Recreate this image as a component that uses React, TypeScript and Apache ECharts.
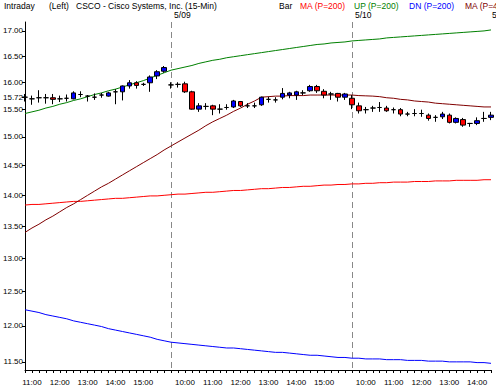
import React, { useEffect, useRef } from "react";
import * as echarts from "echarts";

// ---- categories (15-min bars) ----
const day1Times = ["10:45","11:00","11:15","11:30","11:45","12:00","12:15","12:30","12:45","13:00","13:15","13:30","13:45","14:00","14:15","14:30","14:45","15:00","15:15","15:30","15:45"];
const fullDayTimes = ["9:30","9:45","10:00","10:15","10:30","10:45","11:00","11:15","11:30","11:45","12:00","12:15","12:30","12:45","13:00","13:15","13:30","13:45","14:00","14:15","14:30","14:45","15:00","15:15","15:30","15:45"];
const day3Times = ["9:30","9:45","10:00","10:15","10:30","10:45","11:00","11:15","11:30","11:45","12:00","12:15","12:30","12:45","13:00","13:15","13:30","13:45","14:00","14:15","14:30"];
const dayLabels = ["5/08", "5/09", "5/10"];
const nextDayLabel = "5/11";

const categories: string[] = [
  ...day1Times.map((t) => dayLabels[0] + " " + t),
  ...fullDayTimes.map((t) => dayLabels[1] + " " + t),
  ...day3Times.map((t) => dayLabels[2] + " " + t),
];

// ---- candles: [open, close, low, high] ----
const candles: number[][] = [
  [15.72,15.72,15.64,15.78],[15.69,15.69,15.58,15.75],[15.71,15.71,15.62,15.85],[15.71,15.71,15.60,15.78],
  [15.71,15.68,15.59,15.78],[15.69,15.69,15.63,15.75],[15.70,15.70,15.64,15.77],[15.69,15.80,15.68,15.83],
  [15.77,15.77,15.72,15.83],[15.74,15.74,15.64,15.76],[15.72,15.72,15.67,15.79],[15.76,15.76,15.71,15.80],
  [15.74,15.80,15.73,15.82],[15.82,15.82,15.59,15.87],[15.82,15.93,15.66,15.94],[15.93,15.99,15.88,16.04],
  [15.99,15.94,15.88,16.02],[15.96,15.96,15.93,15.99],[15.99,16.10,15.82,16.13],[16.12,16.20,16.06,16.23],
  [16.21,16.28,16.18,16.31],
  [15.95,15.95,15.88,16.00],[15.96,15.96,15.90,16.00],[15.97,15.82,15.80,16.01],[15.82,15.50,15.49,15.84],
  [15.50,15.56,15.45,15.61],[15.55,15.55,15.49,15.61],[15.56,15.50,15.39,15.58],[15.50,15.50,15.42,15.59],
  [15.53,15.53,15.49,15.59],[15.54,15.65,15.52,15.67],[15.64,15.56,15.54,15.65],[15.56,15.56,15.52,15.61],
  [15.56,15.56,15.52,15.62],[15.58,15.72,15.56,15.73],[15.68,15.68,15.62,15.73],[15.67,15.67,15.62,15.72],
  [15.72,15.79,15.68,15.89],[15.76,15.80,15.70,15.82],[15.76,15.82,15.67,15.84],[15.80,15.80,15.76,15.85],
  [15.84,15.92,15.82,15.95],[15.92,15.84,15.80,15.95],[15.83,15.76,15.70,15.87],[15.78,15.78,15.67,15.82],
  [15.79,15.72,15.64,15.80],[15.72,15.78,15.67,15.80],
  [15.70,15.58,15.50,15.76],[15.56,15.47,15.42,15.62],[15.49,15.49,15.42,15.54],[15.52,15.52,15.45,15.56],
  [15.53,15.53,15.45,15.63],[15.52,15.47,15.45,15.56],[15.49,15.49,15.42,15.53],[15.49,15.41,15.37,15.52],
  [15.41,15.41,15.37,15.45],[15.42,15.42,15.37,15.50],[15.42,15.42,15.36,15.49],[15.39,15.33,15.29,15.42],
  [15.35,15.35,15.27,15.39],[15.36,15.41,15.32,15.45],[15.39,15.26,15.24,15.42],[15.26,15.33,15.24,15.35],
  [15.31,15.21,15.18,15.34],[15.24,15.24,15.18,15.25],[15.24,15.29,15.21,15.35],[15.33,15.33,15.27,15.45],
  [15.35,15.39,15.30,15.45],
];

// ---- indicator lines ----
const ma200 = [
  13.84,13.85,13.85,13.86,13.87,13.88,13.89,13.90,13.90,13.91,13.92,13.93,13.94,13.95,13.95,13.96,13.97,13.98,13.99,13.99,14.00,
  14.01,14.02,14.02,14.03,14.04,14.05,14.05,14.06,14.07,14.08,14.08,14.09,14.10,14.11,14.11,14.12,14.13,14.13,14.14,14.15,14.15,14.16,14.17,14.17,14.18,14.18,
  14.19,14.19,14.20,14.20,14.21,14.21,14.22,14.22,14.22,14.23,14.23,14.23,14.24,14.24,14.24,14.25,14.25,14.25,14.25,14.26,14.26,
];
const up200 = [
  15.42,15.45,15.48,15.52,15.55,15.59,15.62,15.66,15.69,15.73,15.77,15.80,15.84,15.87,15.91,15.95,15.99,16.03,16.08,16.13,16.18,
  16.23,16.26,16.29,16.32,16.36,16.39,16.42,16.44,16.47,16.49,16.51,16.53,16.55,16.57,16.59,16.61,16.63,16.65,16.67,16.69,16.71,16.73,16.74,16.76,16.77,16.78,
  16.80,16.81,16.82,16.83,16.84,16.86,16.87,16.88,16.89,16.90,16.91,16.92,16.93,16.94,16.95,16.96,16.97,16.98,16.99,17.00,17.02,
];
const dn200 = [
  12.23,12.21,12.19,12.16,12.14,12.12,12.10,12.07,12.05,12.03,12.01,11.99,11.96,11.94,11.92,11.90,11.88,11.86,11.84,11.81,11.79,
  11.77,11.76,11.75,11.74,11.73,11.72,11.71,11.70,11.69,11.69,11.68,11.67,11.66,11.65,11.64,11.63,11.63,11.62,11.61,11.60,11.59,11.59,11.58,11.57,11.56,11.56,
  11.55,11.55,11.54,11.54,11.54,11.53,11.53,11.53,11.52,11.52,11.52,11.51,11.51,11.51,11.50,11.50,11.50,11.50,11.49,11.49,11.48,
];
const ma40 = [
  13.40,13.47,13.53,13.60,13.66,13.73,13.80,13.86,13.93,14.00,14.07,14.14,14.20,14.27,14.34,14.41,14.48,14.55,14.62,14.69,14.77,
  14.84,14.91,14.98,15.05,15.12,15.20,15.27,15.33,15.39,15.46,15.52,15.59,15.65,15.72,15.73,15.74,15.74,15.75,15.75,15.75,15.76,15.76,15.76,15.76,15.76,15.76,
  15.76,15.75,15.745,15.74,15.73,15.71,15.70,15.68,15.67,15.65,15.64,15.63,15.61,15.60,15.59,15.58,15.57,15.56,15.55,15.54,15.54,
];

// ---- y-axis tick labels (log price scale) ----
const yTicks = [17.0, 16.5, 16.0, 15.72, 15.5, 15.0, 14.5, 14.0, 13.5, 13.0, 12.5, 12.0, 11.5];
const yMin = 11.39;
const yMax = 17.18;

const FONT = "'Liberation Sans', Arial, sans-serif";

export default function App() {
  const ref = useRef<HTMLDivElement>(null);
  useEffect(() => {
    if (!ref.current) return;
    const chart = echarts.init(ref.current, undefined, { renderer: "svg" });
    const ln = (v: number) => Math.log(v);
    const dayStarts: number[] = [];
    categories.forEach((c, i) => {
      if (i > 0 && c.split(" ")[0] !== categories[i - 1].split(" ")[0]) dayStarts.push(i);
    });
    const lineSeries = (name: string, data: number[], color: string) => ({
      name,
      type: "line",
      data: data.map(ln),
      showSymbol: false,
      symbol: "none",
      lineStyle: { color, width: 1 },
      itemStyle: { color },
      z: 3,
    });
    const hdr = (text: string, left: number, color: string) => ({
      type: "text",
      left,
      top: 1,
      style: { text, fill: color, font: `8.5px ${FONT}` },
    });
    chart.setOption({
      animation: false,
      backgroundColor: "#fff",
      grid: { left: 22, right: 5, top: 22, bottom: 21 },
      xAxis: [
        {
          type: "category",
          data: categories,
          boundaryGap: false,
          axisLine: { show: true, lineStyle: { color: "#000", width: 1 } },
          axisTick: { show: true, interval: 0, length: 3, lineStyle: { color: "#000" } },
          axisLabel: {
            interval: (_i: number, v: string) => v.endsWith(":00"),
            formatter: (v: string) => v.split(" ")[1],
            fontSize: 8,
            fontFamily: FONT,
            color: "#000",
            margin: 8,
          },
          splitLine: {
            show: true,
            interval: (i: number) => dayStarts.includes(i),
            lineStyle: { color: "#888", width: 1, type: [6, 4] },
          },
        },
        {
          type: "category",
          position: "top",
          data: categories,
          boundaryGap: false,
          axisLine: { show: false },
          axisTick: { show: false },
          splitLine: { show: false },
          axisLabel: {
            interval: (i: number) => dayStarts.includes(i),
            formatter: (v: string) => v.split(" ")[0],
            align: "left",
            padding: [0, 0, 0, 3],
            margin: 3,
            fontSize: 8.5,
            fontFamily: FONT,
            color: "#000",
          },
        },
      ],
      yAxis: {
        type: "value",
        min: ln(yMin),
        max: ln(yMax),
        axisLine: { show: true, lineStyle: { color: "#000", width: 1 } },
        axisTick: { show: true, length: 3, customValues: yTicks.map(ln), lineStyle: { color: "#000" } },
        axisLabel: {
          customValues: yTicks.map(ln),
          formatter: (v: number) => Math.exp(v).toFixed(2),
          fontSize: 8,
          fontFamily: FONT,
          color: "#000",
          margin: 2,
        },
        splitLine: { show: false },
      },
      series: [
        {
          name: "Bar",
          type: "candlestick",
          data: candles.map((c) => c.map(ln)),
          barWidth: 5,
          itemStyle: {
            color: "#0000ff",
            color0: "#ff0000",
            borderColor: "#000",
            borderColor0: "#000",
            borderColorDoji: "#000",
            borderWidth: 1,
          },
          z: 4,
        },
        lineSeries("MA (P=200)", ma200, "#ff0000"),
        lineSeries("UP (P=200)", up200, "#008000"),
        lineSeries("DN (P=200)", dn200, "#0000ff"),
        lineSeries("MA (P=40)", ma40, "#800000"),
      ],
      graphic: [
        hdr("Intraday", 4, "#000"),
        hdr("(Left)", 49, "#000"),
        hdr("CSCO - Cisco Systems, Inc. (15-Min)", 76, "#000"),
        hdr("Bar", 279, "#000"),
        hdr("MA (P=200)", 300, "#ff0000"),
        hdr("UP (P=200)", 354, "#008000"),
        hdr("DN (P=200)", 409, "#0000ff"),
        hdr("MA (P=40)", 465, "#800000"),
        {
          type: "text",
          left: 492,
          top: 10,
          style: { text: nextDayLabel, fill: "#000", font: `8.5px ${FONT}` },
        },
      ],
    });
    return () => chart.dispose();
  }, []);
  return (
    <div
      ref={ref}
      style={{ position: "fixed", left: 0, top: 0, width: 496, height: 391 }}
    />
  );
}
